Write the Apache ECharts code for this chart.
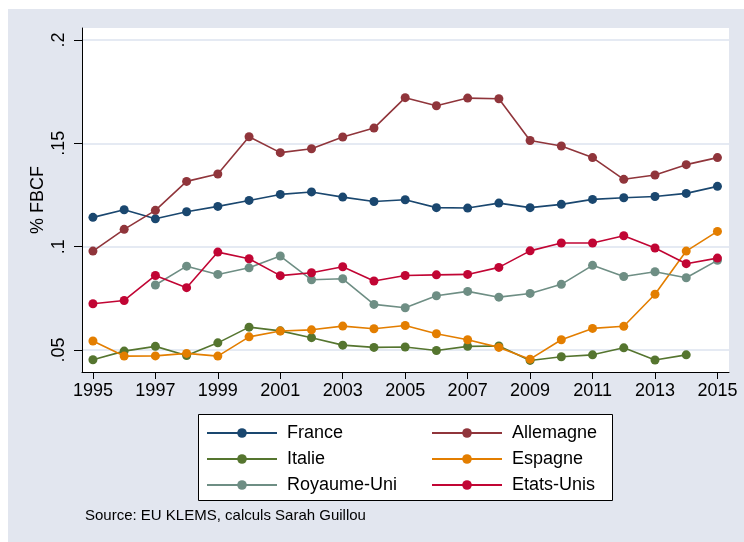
<!DOCTYPE html>
<html><head><meta charset="utf-8">
<script src="https://cdn.jsdelivr.net/npm/echarts@6/dist/echarts.min.js"></script>
<style>html,body{margin:0;padding:0;background:#fff}#c{width:744px;height:542px}</style>
</head><body><div id="c"></div>
<script>
const years = [1995,1996,1997,1998,1999,2000,2001,2002,2003,2004,2005,2006,2007,2008,2009,2010,2011,2012,2013,2014,2015];
const xTicks = [1995,1997,1999,2001,2003,2005,2007,2009,2011,2013,2015];
const yTicks = [0.05,0.1,0.15,0.2];
const yTickLabels = ['.05','.1','.15','.2'];
const france     = [0.1142,0.1179,0.1135,0.1169,0.1195,0.1224,0.1253,0.1265,0.1240,0.1219,0.1227,0.1189,0.1187,0.1211,0.1189,0.1205,0.1229,0.1237,0.1243,0.1258,0.1292];
const allemagne  = [0.0979,0.1084,0.1176,0.1316,0.1352,0.1532,0.1455,0.1474,0.1531,0.1574,0.1721,0.1682,0.1719,0.1716,0.1514,0.1487,0.1431,0.1326,0.1347,0.1397,0.1431];
const italie     = [0.0453,0.0495,0.0518,0.0474,0.0535,0.0611,0.0593,0.0560,0.0524,0.0513,0.0515,0.0498,0.0518,0.0520,0.0450,0.0468,0.0477,0.0511,0.0452,0.0477,null];
const espagne    = [0.0544,0.0471,0.0472,0.0484,0.0471,0.0564,0.0592,0.0598,0.0616,0.0603,0.0619,0.0579,0.0550,0.0513,0.0456,0.0550,0.0605,0.0615,0.0770,0.0979,0.1074];
const royaumeUni = [null,null,0.0815,0.0906,0.0866,0.0898,0.0955,0.0840,0.0845,0.0721,0.0705,0.0763,0.0784,0.0756,0.0774,0.0818,0.0910,0.0856,0.0879,0.0850,0.0934];
const etatsUnis  = [0.0724,0.0740,0.0861,0.0802,0.0974,0.0942,0.0860,0.0874,0.0903,0.0834,0.0861,0.0864,0.0866,0.0900,0.0980,0.1018,0.1018,0.1053,0.0994,0.0918,0.0945];
const names = ['France','Allemagne','Italie','Espagne','Royaume-Uni','Etats-Unis'];
const values = [france, allemagne, italie, espagne, royaumeUni, etatsUnis];
const colors = ['#1a476f','#90353b','#55752f','#e37e00','#6e8e84','#c10534'];

const chart = echarts.init(document.getElementById('c'));
const series = names.map((n,i)=>({
  name:n, type:'line', symbol:'circle', symbolSize:9, connectNulls:false,
  color:colors[i], lineStyle:{width:1.6,color:colors[i]}, itemStyle:{color:colors[i]},
  data: years.map((y,j)=>[y, values[i][j]]), z: 3+i, animation:false
}));
const legendCommon = {orient:'vertical', top:419, itemWidth:70, itemHeight:12, itemGap:8,
  textStyle:{fontSize:18,color:'#000',lineHeight:18,padding:[0,0,0,5]}};
chart.setOption({
  animation:false,
  textStyle:{fontFamily:'Liberation Sans, Arial, sans-serif'},
  graphic:[
    {type:'rect', z:-10, shape:{x:8,y:9,width:736,height:533}, style:{fill:'#e2e6ef'}},
    {type:'rect', z:-5, shape:{x:198.5,y:414.5,width:414,height:86}, style:{fill:'#fff',stroke:'#000',lineWidth:1}}
  ],
  title:{text:'Source: EU KLEMS, calculs Sarah Guillou', left:80, top:503,
    textStyle:{fontSize:15,fontWeight:'normal',color:'#000',fontFamily:'Liberation Sans, Arial, sans-serif'}},
  grid:{left:82, top:28, width:647, height:344, show:true, backgroundColor:'#fff', borderWidth:0},
  xAxis:{type:'value', min:1994.65, max:2015.37,
    axisLine:{show:true,onZero:false,lineStyle:{color:'#000',width:1}},
    axisTick:{show:true,length:7,customValues:xTicks,lineStyle:{color:'#000'}},
    axisLabel:{customValues:xTicks,margin:10,fontSize:18,color:'#000',formatter:v=>String(v)},
    splitLine:{show:false}},
  yAxis:{type:'value', min:0.0394, max:0.2058,
    name:'% FBCF', nameLocation:'middle', nameRotate:90, nameGap:35, nameMoveOverlap:false,
    nameTextStyle:{fontSize:18,color:'#000'},
    axisLine:{show:true,onZero:false,lineStyle:{color:'#000',width:1}},
    axisTick:{show:true,length:8,customValues:yTicks,lineStyle:{color:'#000'}},
    axisLabel:{customValues:yTicks,rotate:90,margin:14,fontSize:18,color:'#000',
      formatter:v=>{const k=yTicks.findIndex(t=>Math.abs(t-v)<1e-9);return k>=0?yTickLabels[k]:'';}},
    splitLine:{show:true,lineStyle:{color:'#dde3ef',width:1.5}}},
  legend:[
    Object.assign({data:['France','Italie','Royaume-Uni'], left:201}, legendCommon),
    Object.assign({data:['Allemagne','Espagne','Etats-Unis'], left:426}, legendCommon)
  ],
  series: series
});
</script></body></html>
